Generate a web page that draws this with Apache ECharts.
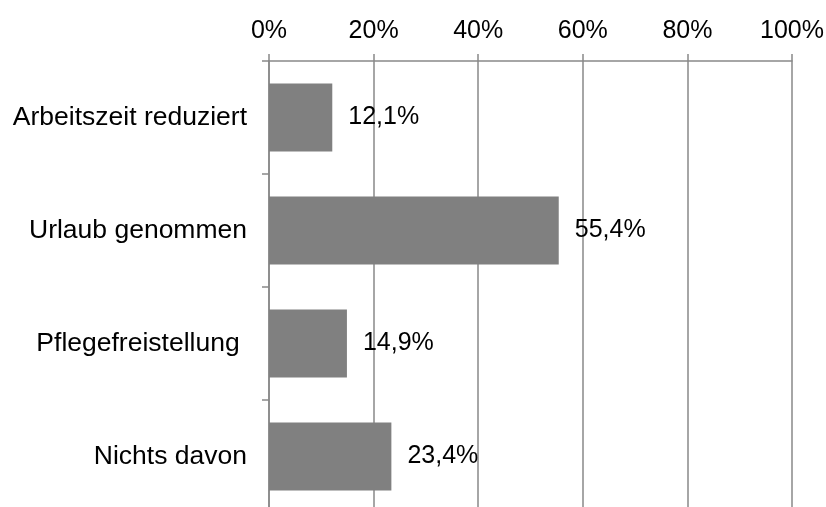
<!DOCTYPE html>
<html>
<head>
<meta charset="utf-8">
<script src="https://cdn.jsdelivr.net/npm/echarts@6/dist/echarts.min.js"></script>
<style>
  html, body { margin: 0; padding: 0; background: #fff; }
  #chart { width: 826px; height: 507px; }
</style>
</head>
<body>
<div id="chart"></div>
<script>
// Kategorien und Werte (in %)
var categories = ['Arbeitszeit reduziert', 'Urlaub genommen', 'Pflegefreistellung ', 'Nichts davon'];
var values = [12.1, 55.4, 14.9, 23.4];
var xTicks = [0, 20, 40, 60, 80, 100];

var gray = '#898989';
var chart = echarts.init(document.getElementById('chart'));

chart.setOption({
  animation: false,
  textStyle: { fontFamily: 'Liberation Sans, Arial, sans-serif' },
  grid: {
    left: 269,
    top: 61,
    width: 523,
    height: 452,
    outerBoundsMode: 'none'
  },
  xAxis: {
    type: 'value',
    position: 'top',
    min: xTicks[0],
    max: xTicks[xTicks.length - 1],
    interval: 20,
    axisLine: { show: true, lineStyle: { color: gray, width: 1.5 } },
    axisTick: { show: true, length: 7, lineStyle: { color: gray, width: 1.5 } },
    splitLine: { show: true, lineStyle: { color: gray, width: 1.5 } },
    axisLabel: {
      fontSize: 25,
      color: '#000',
      margin: 17,
      formatter: '{value}%'
    }
  },
  yAxis: {
    type: 'category',
    inverse: true,
    data: categories,
    axisLine: { show: true, lineStyle: { color: gray, width: 1.5 } },
    axisTick: { show: true, length: 7, lineStyle: { color: gray, width: 1.5 } },
    axisLabel: { fontSize: 26.5, color: '#000', margin: 22 }
  },
  series: [{
    type: 'bar',
    data: values,
    barWidth: 68,
    itemStyle: { color: '#808080' },
    label: {
      show: true,
      position: 'right',
      distance: 16,
      fontSize: 25,
      color: '#000',
      formatter: function (p) {
        return p.value.toFixed(1).replace('.', ',') + '%';
      }
    }
  }]
});
</script>
</body>
</html>
